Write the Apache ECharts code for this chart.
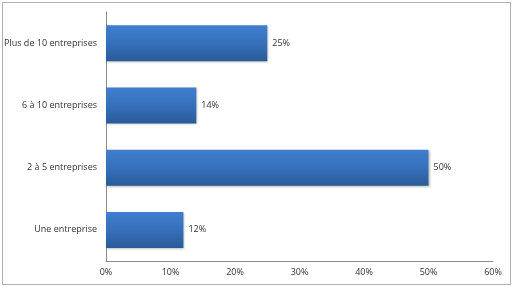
<!DOCTYPE html>
<html>
<head>
<meta charset="utf-8">
<script src="https://cdn.jsdelivr.net/npm/echarts@6/dist/echarts.min.js"></script>
<style>
  html, body { margin: 0; padding: 0; background: #fff; }
  #frame { position: absolute; left: 2px; top: 2px; width: 507px; height: 281px; border: 1px solid #b0b0b0; }
  #root { position: absolute; left: 0; top: 0; width: 513px; height: 287px; }
</style>
</head>
<body>
<div id="frame"></div>
<div id="root"></div>
<script>
  // bottom to top, as the category axis draws them
  const categories = ["Une entreprise", "2 à 5 entreprises", "6 à 10 entreprises", "Plus de 10 entreprises"];
  const values = [12, 50, 14, 25];
  const tickLabels = ["0%", "10%", "20%", "30%", "40%", "50%", "60%"];

  const font = "'Open Sans', 'Noto Sans', sans-serif";
  const chart = echarts.init(document.getElementById("root"), null, { renderer: "canvas" });

  chart.setOption({
    backgroundColor: "transparent",
    animation: false,
    grid: { left: 106, right: 20, top: 12, bottom: 26, containLabel: false },
    xAxis: {
      type: "value",
      min: 0,
      max: 60,
      interval: 10,
      axisLine: { show: true, lineStyle: { color: "#8c8c8c", width: 1 } },
      axisTick: { show: false },
      splitLine: { show: false },
      axisLabel: {
        color: "#333",
        fontFamily: font,
        fontSize: 9,
        margin: 7,
        formatter: (v) => tickLabels[Math.round(v / 10)] || ""
      }
    },
    yAxis: {
      type: "category",
      data: categories,
      axisLine: { show: true, lineStyle: { color: "#8c8c8c", width: 1 } },
      axisTick: { show: false },
      axisLabel: { color: "#333", fontFamily: font, fontSize: 9, margin: 9 }
    },
    series: [
      {
        type: "bar",
        data: values,
        barWidth: 36,
        itemStyle: {
          color: new echarts.graphic.LinearGradient(0, 0, 0, 1, [
            { offset: 0, color: "#3f7fce" },
            { offset: 0.5, color: "#3670bb" },
            { offset: 1, color: "#2b5a98" }
          ]),
          shadowColor: "rgba(0,0,0,0.25)",
          shadowBlur: 2,
          shadowOffsetX: 1,
          shadowOffsetY: 1
        },
        label: {
          show: true,
          position: "right",
          distance: 5,
          color: "#333",
          fontFamily: font,
          fontSize: 9,
          formatter: (p) => p.value + "%"
        }
      }
    ]
  });
</script>
</body>
</html>
